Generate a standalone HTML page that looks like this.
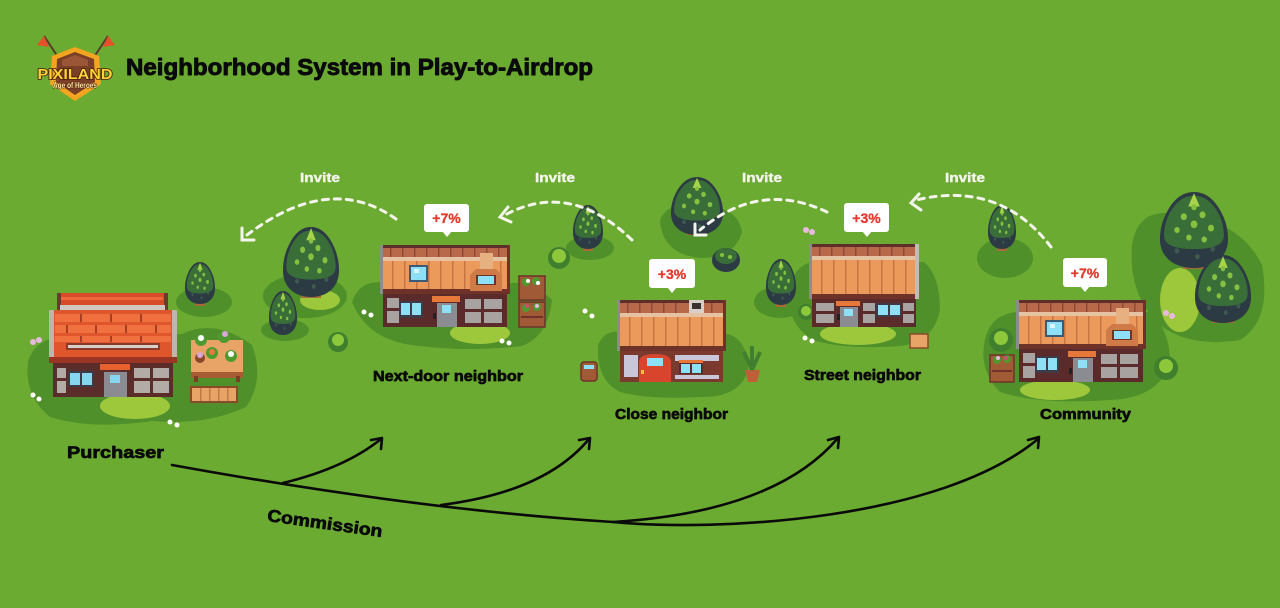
<!DOCTYPE html>
<html><head><meta charset="utf-8"><style>
html,body{margin:0;padding:0;width:1280px;height:608px;overflow:hidden;background:#6bab31}
svg{display:block}
text{font-family:"Liberation Sans",sans-serif;font-weight:bold}
</style></head><body>
<svg width="1280" height="608" viewBox="0 0 1280 608" xmlns="http://www.w3.org/2000/svg">
<defs>
<g id="houseA">
  <rect x="0" y="0" width="130" height="3" fill="#5e2e2a"/>
  <rect x="0" y="3" width="130" height="9" fill="#b8694a"/>
  <g fill="#8e4a36"><rect x="10" y="3" width="1.5" height="9"/><rect x="22" y="3" width="1.5" height="9"/><rect x="34" y="3" width="1.5" height="9"/><rect x="46" y="3" width="1.5" height="9"/><rect x="58" y="3" width="1.5" height="9"/><rect x="70" y="3" width="1.5" height="9"/><rect x="82" y="3" width="1.5" height="9"/><rect x="94" y="3" width="1.5" height="9"/><rect x="106" y="3" width="1.5" height="9"/><rect x="118" y="3" width="1.5" height="9"/></g>
  <rect x="0" y="12" width="130" height="4" fill="#e6c2a2"/>
  <rect x="0" y="16" width="130" height="30" fill="#ec9a5c"/>
  <g fill="#c67542"><rect x="12" y="16" width="1.5" height="30"/><rect x="24" y="16" width="1.5" height="30"/><rect x="36" y="16" width="1.5" height="30"/><rect x="48" y="16" width="1.5" height="30"/><rect x="60" y="16" width="1.5" height="30"/><rect x="72" y="16" width="1.5" height="30"/><rect x="84" y="16" width="1.5" height="30"/><rect x="108" y="16" width="1.5" height="30"/><rect x="120" y="16" width="1.5" height="30"/></g>
  <rect x="0" y="44" width="130" height="5" fill="#6e3229"/>
  <rect x="0" y="0" width="3" height="49" fill="#8c8c8c"/>
  <rect x="127" y="0" width="3" height="49" fill="#6e3229"/>
  <rect x="29" y="20" width="19" height="17" fill="#3a5a78"/>
  <rect x="31" y="22" width="15" height="13" fill="#8ee0f6"/>
  <rect x="34" y="24" width="5" height="4" fill="#d8f6ff"/>
  <rect x="100" y="8" width="13" height="16" fill="#e6b080"/>
  <path d="M90,46 L90,30 L96,24 L116,24 L122,30 L122,46 Z" fill="#d07a48"/>
  <rect x="96" y="30" width="20" height="10" fill="#6e3229"/>
  <rect x="98" y="31" width="16" height="8" fill="#8ee0f6"/>
  <rect x="3" y="49" width="124" height="33" fill="#5a2b2a"/>
  <rect x="7" y="53" width="12" height="10" fill="#a8a2a0"/>
  <rect x="7" y="66" width="12" height="12" fill="#a8a2a0"/>
  <rect x="19" y="56" width="24" height="17" fill="#3e3a48"/>
  <rect x="21" y="58" width="9" height="12" fill="#8ee0f6"/>
  <rect x="32" y="58" width="9" height="12" fill="#8ee0f6"/>
  <rect x="52" y="51" width="28" height="6" fill="#e6783a"/>
  <rect x="57" y="58" width="20" height="24" fill="#8a8c92"/>
  <rect x="62" y="60" width="9" height="8" fill="#8ee0f6"/>
  <rect x="53" y="68" width="3" height="6" fill="#222"/>
  <rect x="85" y="54" width="16" height="10" fill="#a8a2a0"/>
  <rect x="104" y="54" width="18" height="10" fill="#a8a2a0"/>
  <rect x="85" y="67" width="16" height="11" fill="#a8a2a0"/>
  <rect x="104" y="67" width="18" height="11" fill="#a8a2a0"/>
</g>
<g id="tr">
  <path d="M0,-1 C0.3,-1 0.55,-0.85 0.75,-0.55 C0.95,-0.25 1,0 1,0.25 C1,0.7 0.6,1 0,1 C-0.6,1 -1,0.7 -1,0.25 C-1,0 -0.95,-0.25 -0.75,-0.55 C-0.55,-0.85 -0.3,-1 0,-1Z" fill="#2c3a44"/>
  <path d="M0,-0.9 C0.3,-0.9 0.5,-0.75 0.68,-0.5 C0.85,-0.25 0.88,0 0.88,0.15 C0.88,0.42 0.5,0.5 0,0.5 C-0.5,0.5 -0.88,0.42 -0.88,0.15 C-0.88,0 -0.85,-0.25 -0.68,-0.5 C-0.5,-0.75 -0.3,-0.9 0,-0.9Z" fill="#3a6e38"/>
  <path d="M0,-0.97 L0.17,-0.62 L-0.17,-0.62Z" fill="#a8d44a"/>
  <g fill="#86c040">
    <circle cx="-0.3" cy="-0.35" r="0.09"/><circle cx="0.25" cy="-0.4" r="0.09"/><circle cx="0" cy="-0.15" r="0.1"/>
    <circle cx="-0.5" cy="0" r="0.08"/><circle cx="0.5" cy="-0.05" r="0.09"/><circle cx="-0.15" cy="0.2" r="0.08"/>
    <circle cx="0.3" cy="0.25" r="0.08"/><circle cx="0" cy="-0.6" r="0.08"/>
  </g>
  <g fill="#3e5a4e">
    <circle cx="-0.5" cy="0.55" r="0.07"/><circle cx="0.1" cy="0.7" r="0.07"/><circle cx="0.55" cy="0.5" r="0.07"/>
  </g>
</g>
</defs>

<rect width="1280" height="608" fill="#6bab31"/>

<!-- ===== shadows ===== -->
<g fill="#50902b">
  <path d="M28,362 Q36,334 72,338 L182,334 Q215,318 252,345 Q265,380 246,407 Q205,426 152,421 Q92,430 50,417 Q24,396 28,362Z"/>
  <ellipse cx="204" cy="302" rx="28" ry="15"/>
  <path d="M352,302 Q360,278 388,283 L512,283 Q532,280 552,300 Q548,336 522,346 Q470,352 420,346 Q368,342 352,302Z"/>
  <ellipse cx="305" cy="296" rx="42" ry="22"/>
  <ellipse cx="285" cy="330" rx="24" ry="11"/>
  <path d="M598,345 Q606,326 630,334 L728,334 Q748,340 748,370 Q740,398 700,397 Q650,400 620,392 Q596,380 598,345Z"/>
  <ellipse cx="590" cy="248" rx="24" ry="12"/>
  <path d="M660,220 Q668,200 700,205 Q738,206 742,232 Q735,258 700,258 Q662,254 660,220Z"/>
  <path d="M788,290 Q796,262 816,262 L924,262 Q940,275 940,310 Q934,342 900,346 Q846,350 812,340 Q786,322 788,290Z"/>
  <ellipse cx="780" cy="302" rx="26" ry="16"/>
  <path d="M984,345 Q988,315 1016,312 L1150,312 Q1170,330 1170,362 Q1160,398 1110,400 Q1040,405 1000,392 Q980,372 984,345Z"/>
  <ellipse cx="1005" cy="258" rx="28" ry="20"/>
  <path d="M1132,245 Q1138,205 1180,215 Q1240,220 1262,265 Q1272,320 1240,340 Q1190,348 1160,325 Q1128,295 1132,245Z"/>
</g>
<!-- light patches -->
<g fill="#9dc83c">
  <ellipse cx="135" cy="406" rx="35" ry="13"/>
  <ellipse cx="480" cy="333" rx="30" ry="11"/>
  <ellipse cx="858" cy="334" rx="38" ry="11"/>
  <ellipse cx="1055" cy="390" rx="35" ry="10"/>
  <ellipse cx="1180" cy="300" rx="20" ry="32"/>
  <ellipse cx="320" cy="300" rx="20" ry="10"/>
</g>

<!-- ===== trees ===== -->
<g>
  <rect x="195" y="301" width="10" height="5" fill="#a86a3a"/>
  <use href="#tr" transform="translate(200,283) scale(15,21)"/>
  <rect x="301" y="292" width="20" height="6" fill="#a86a3a"/>
  <use href="#tr" transform="translate(311,262) scale(28,35)"/>
  <use href="#tr" transform="translate(283,313) scale(14,22)"/>
  <rect x="583" y="246" width="10" height="5" fill="#a86a3a"/>
  <use href="#tr" transform="translate(588,227) scale(15,22)"/>
  <rect x="687" y="229" width="20" height="6" fill="#a86a3a"/>
  <use href="#tr" transform="translate(697,206) scale(26,29)"/>
  <ellipse cx="726" cy="260" rx="14" ry="12" fill="#2c3a44"/>
  <ellipse cx="726" cy="256" rx="11" ry="8" fill="#3a6e38"/>
  <circle cx="722" cy="255" r="2" fill="#86c040"/><circle cx="730" cy="257" r="2" fill="#86c040"/>
  <rect x="776" y="302" width="10" height="5" fill="#a86a3a"/>
  <use href="#tr" transform="translate(781,282) scale(15,23)"/>
  <rect x="997" y="246" width="10" height="5" fill="#a86a3a"/>
  <use href="#tr" transform="translate(1002,227) scale(14,22)"/>
  <rect x="1183" y="262" width="22" height="7" fill="#a86a3a"/>
  <use href="#tr" transform="translate(1194,230) scale(34,38)"/>
  <rect x="1212" y="316" width="22" height="7" fill="#a86a3a"/>
  <use href="#tr" transform="translate(1223,289) scale(28,34)"/>
</g>

<!-- bushes -->
<g>
  <circle cx="338" cy="342" r="10" fill="#3f7f2e"/><circle cx="338" cy="340" r="6" fill="#8cc83a"/>
  <circle cx="559" cy="258" r="11" fill="#3f7f2e"/><circle cx="559" cy="256" r="7" fill="#8cc83a"/>
  <circle cx="1001" cy="340" r="12" fill="#3f7f2e"/><circle cx="1001" cy="338" r="7" fill="#8cc83a"/>
  <circle cx="1166" cy="368" r="12" fill="#3f7f2e"/><circle cx="1166" cy="366" r="7" fill="#8cc83a"/>
  <circle cx="806" cy="312" r="8" fill="#3f7f2e"/><circle cx="806" cy="311" r="5" fill="#8cc83a"/>
</g>

<!-- flowers -->
<g>
  <circle cx="33" cy="342" r="3" fill="#e8b8e0"/><circle cx="39" cy="340" r="3" fill="#e8b8e0"/>
  <circle cx="33" cy="395" r="2.5" fill="#fff"/><circle cx="39" cy="399" r="2.5" fill="#fff"/>
  <circle cx="170" cy="422" r="2.5" fill="#fff"/><circle cx="177" cy="425" r="2.5" fill="#fff"/>
  <circle cx="364" cy="312" r="2.5" fill="#fff"/><circle cx="371" cy="315" r="2.5" fill="#fff"/>
  <circle cx="502" cy="341" r="2.5" fill="#fff"/><circle cx="509" cy="343" r="2.5" fill="#fff"/>
  <circle cx="585" cy="311" r="2.5" fill="#fff"/><circle cx="592" cy="316" r="2.5" fill="#fff"/>
  <circle cx="806" cy="230" r="3" fill="#e8b8e0"/><circle cx="812" cy="232" r="3" fill="#e8b8e0"/>
  <circle cx="805" cy="338" r="2.5" fill="#fff"/><circle cx="812" cy="341" r="2.5" fill="#fff"/>
  <circle cx="1166" cy="313" r="3" fill="#e8b8e0"/><circle cx="1172" cy="316" r="3" fill="#e8b8e0"/>
</g>

<!-- ===== Purchaser house ===== -->
<g>
  <rect x="57" y="293" width="111" height="17" fill="#d84a28"/>
  <rect x="61" y="297" width="102" height="3" fill="#ee6a3a"/>
  <rect x="57" y="293" width="4" height="18" fill="#6a3a30"/>
  <rect x="164" y="293" width="4" height="18" fill="#6a3a30"/>
  <rect x="60" y="305" width="105" height="5" fill="#cfc7c0"/>
  <rect x="49" y="310" width="128" height="53" fill="#e0562c"/>
  <rect x="55" y="314" width="116" height="8" fill="#f07040"/>
  <rect x="55" y="325" width="116" height="8" fill="#f07040"/>
  <rect x="55" y="336" width="116" height="6" fill="#f07040"/>
  <g fill="#a83c24">
    <rect x="80" y="314" width="2" height="8"/><rect x="110" y="314" width="2" height="8"/><rect x="140" y="314" width="2" height="8"/>
    <rect x="66" y="325" width="2" height="8"/><rect x="95" y="325" width="2" height="8"/><rect x="125" y="325" width="2" height="8"/><rect x="155" y="325" width="2" height="8"/>
    <rect x="80" y="336" width="2" height="6"/><rect x="110" y="336" width="2" height="6"/><rect x="140" y="336" width="2" height="6"/>
  </g>
  <rect x="49" y="310" width="5" height="53" fill="#bdb5ae"/>
  <rect x="172" y="310" width="5" height="53" fill="#bdb5ae"/>
  <rect x="66" y="343" width="94" height="7" fill="#8a3a2a"/>
  <rect x="68" y="345" width="90" height="3" fill="#d8cfc8"/>
  <rect x="49" y="357" width="128" height="6" fill="#9a3524"/>
  <rect x="53" y="363" width="120" height="34" fill="#5a2c2a"/>
  <rect x="57" y="368" width="9" height="10" fill="#b3aba6"/>
  <rect x="57" y="381" width="9" height="12" fill="#b3aba6"/>
  <rect x="68" y="371" width="26" height="16" fill="#3e3a48"/>
  <rect x="70" y="373" width="10" height="12" fill="#86d6f0"/>
  <rect x="82" y="373" width="10" height="12" fill="#86d6f0"/>
  <rect x="100" y="364" width="30" height="6" fill="#e8602e"/>
  <rect x="104" y="372" width="23" height="25" fill="#8a8c92"/>
  <rect x="110" y="375" width="10" height="8" fill="#86d6f0"/>
  <rect x="134" y="368" width="16" height="10" fill="#b3aba6"/>
  <rect x="153" y="368" width="16" height="10" fill="#b3aba6"/>
  <rect x="134" y="381" width="16" height="12" fill="#b3aba6"/>
  <rect x="153" y="381" width="16" height="12" fill="#b3aba6"/>
</g>
<!-- table + bench -->
<g>
  <rect x="191" y="340" width="52" height="34" fill="#e8a466"/>
  <rect x="191" y="372" width="52" height="6" fill="#a85c34"/>
  <rect x="194" y="376" width="4" height="6" fill="#7a3e24"/><rect x="236" y="376" width="4" height="6" fill="#7a3e24"/>
  <circle cx="201" cy="340" r="6" fill="#4f9a2f"/><circle cx="201" cy="338" r="3" fill="#fff"/>
  <circle cx="224" cy="337" r="6" fill="#4f9a2f"/><circle cx="225" cy="334" r="3" fill="#d8a8d8"/>
  <circle cx="212" cy="353" r="6" fill="#4f9a2f"/><circle cx="212" cy="352" r="3" fill="#e87a40"/>
  <circle cx="200" cy="358" r="5" fill="#8a4a2a"/><circle cx="200" cy="355" r="3" fill="#d8a8d8"/>
  <circle cx="231" cy="356" r="6" fill="#4f9a2f"/><circle cx="231" cy="354" r="3" fill="#fff"/>
  <rect x="191" y="387" width="46" height="15" fill="#e8a466" stroke="#8a4a2a" stroke-width="2"/>
  <g fill="#c07a48"><rect x="200" y="388" width="1.5" height="13"/><rect x="209" y="388" width="1.5" height="13"/><rect x="218" y="388" width="1.5" height="13"/><rect x="227" y="388" width="1.5" height="13"/></g>
</g>

<!-- ===== Next-door house ===== -->
<use href="#houseA" transform="translate(380,245)"/>
<g>
  <rect x="519" y="276" width="26" height="24" fill="#a05a35" stroke="#6e3229" stroke-width="1.5"/>
  <circle cx="526" cy="282" r="4" fill="#4f9a2f"/><circle cx="536" cy="281" r="4" fill="#4f9a2f"/><circle cx="528" cy="281" r="2" fill="#fff"/><circle cx="538" cy="283" r="2" fill="#fff"/>
  <rect x="519" y="302" width="26" height="25" fill="#a05a35" stroke="#6e3229" stroke-width="1.5"/>
  <circle cx="526" cy="308" r="4" fill="#4f9a2f"/><circle cx="537" cy="307" r="4" fill="#4f9a2f"/><circle cx="527" cy="306" r="2" fill="#d04a7a"/><circle cx="537" cy="306" r="2" fill="#e8b8e0"/>
  <rect x="521" y="316" width="22" height="2" fill="#6e3229"/>
</g>

<!-- ===== Close neighbor house ===== -->
<g transform="translate(617,300)">
  <rect x="0" y="0" width="109" height="3" fill="#5e2e2a"/>
  <rect x="0" y="3" width="109" height="10" fill="#b8694a"/>
  <g fill="#8e4a36"><rect x="10" y="3" width="1.5" height="10"/><rect x="22" y="3" width="1.5" height="10"/><rect x="34" y="3" width="1.5" height="10"/><rect x="46" y="3" width="1.5" height="10"/><rect x="58" y="3" width="1.5" height="10"/><rect x="94" y="3" width="1.5" height="10"/></g>
  <rect x="72" y="0" width="15" height="16" fill="#d8d0c8"/>
  <rect x="75" y="3" width="9" height="6" fill="#3a3030"/>
  <rect x="0" y="13" width="109" height="4" fill="#e6c2a2"/>
  <rect x="0" y="17" width="109" height="30" fill="#ec9a5c"/>
  <g fill="#c67542"><rect x="12" y="17" width="1.5" height="30"/><rect x="24" y="17" width="1.5" height="30"/><rect x="36" y="17" width="1.5" height="30"/><rect x="48" y="17" width="1.5" height="30"/><rect x="60" y="17" width="1.5" height="30"/><rect x="72" y="17" width="1.5" height="30"/><rect x="84" y="17" width="1.5" height="30"/><rect x="96" y="17" width="1.5" height="30"/></g>
  <rect x="0" y="46" width="109" height="5" fill="#6e3229"/>
  <rect x="0" y="0" width="3" height="51" fill="#8c8c8c"/>
  <rect x="106" y="0" width="3" height="51" fill="#6e3229"/>
  <rect x="3" y="51" width="103" height="31" fill="#7a3a2e"/>
  <rect x="7" y="55" width="14" height="22" fill="#c8c6d8"/>
  <rect x="58" y="55" width="44" height="6" fill="#c8c6d8"/>
  <rect x="58" y="75" width="44" height="4" fill="#c8c6d8"/>
  <path d="M22,82 L22,62 Q22,54 38,54 Q54,54 54,62 L54,82 Z" fill="#d8452c"/>
  <rect x="30" y="58" width="16" height="8" fill="#8ee0f6"/>
  <rect x="24" y="70" width="3" height="4" fill="#f0c040"/>
  <rect x="62" y="60" width="24" height="3" fill="#e8783a"/>
  <rect x="62" y="63" width="24" height="11" fill="#5a2b2a"/>
  <rect x="64" y="64" width="9" height="9" fill="#8ee0f6"/>
  <rect x="75" y="64" width="9" height="9" fill="#8ee0f6"/>
</g>
<!-- bucket, potted plant -->
<g>
  <rect x="581" y="362" width="16" height="19" rx="3" fill="#a05a35" stroke="#6e3229" stroke-width="1.5"/>
  <rect x="584" y="365" width="10" height="4" fill="#8ee0f6"/>
  <path d="M745,370 L760,370 L757,382 L748,382 Z" fill="#c0603a"/>
  <path d="M752,370 L744,352 M752,370 L752,346 M752,370 L760,352" stroke="#3f7f2e" stroke-width="4"/>
</g>

<!-- ===== Street neighbor house ===== -->
<g transform="translate(809,244)">
  <rect x="0" y="0" width="110" height="3" fill="#5e2e2a"/>
  <rect x="0" y="3" width="110" height="9" fill="#b8694a"/>
  <g fill="#8e4a36"><rect x="10" y="3" width="1.5" height="9"/><rect x="22" y="3" width="1.5" height="9"/><rect x="34" y="3" width="1.5" height="9"/><rect x="46" y="3" width="1.5" height="9"/><rect x="58" y="3" width="1.5" height="9"/><rect x="70" y="3" width="1.5" height="9"/><rect x="82" y="3" width="1.5" height="9"/><rect x="94" y="3" width="1.5" height="9"/></g>
  <rect x="0" y="12" width="110" height="4" fill="#e6c2a2"/>
  <rect x="0" y="16" width="110" height="35" fill="#ec9a5c"/>
  <g fill="#c67542"><rect x="12" y="16" width="1.5" height="35"/><rect x="24" y="16" width="1.5" height="35"/><rect x="36" y="16" width="1.5" height="35"/><rect x="48" y="16" width="1.5" height="35"/><rect x="60" y="16" width="1.5" height="35"/><rect x="72" y="16" width="1.5" height="35"/><rect x="84" y="16" width="1.5" height="35"/><rect x="96" y="16" width="1.5" height="35"/></g>
  <rect x="0" y="50" width="110" height="5" fill="#6e3229"/>
  <rect x="0" y="0" width="3" height="55" fill="#8c8c8c"/>
  <rect x="106" y="0" width="4" height="55" fill="#c0bcb8"/>
  <rect x="3" y="55" width="104" height="28" fill="#5a2b2a"/>
  <rect x="7" y="59" width="18" height="8" fill="#a8a2a0"/>
  <rect x="7" y="70" width="18" height="9" fill="#a8a2a0"/>
  <rect x="27" y="57" width="24" height="5" fill="#e6783a"/>
  <rect x="31" y="63" width="18" height="20" fill="#8a8c92"/>
  <rect x="35" y="65" width="9" height="7" fill="#8ee0f6"/>
  <rect x="28" y="70" width="3" height="6" fill="#222"/>
  <rect x="54" y="59" width="12" height="8" fill="#a8a2a0"/>
  <rect x="54" y="70" width="12" height="9" fill="#a8a2a0"/>
  <rect x="67" y="59" width="25" height="14" fill="#3e3a48"/>
  <rect x="69" y="61" width="10" height="10" fill="#8ee0f6"/>
  <rect x="81" y="61" width="10" height="10" fill="#8ee0f6"/>
  <rect x="94" y="59" width="11" height="8" fill="#a8a2a0"/>
  <rect x="94" y="70" width="11" height="9" fill="#a8a2a0"/>
</g>
<rect x="910" y="334" width="18" height="14" fill="#e8a466" stroke="#8a4a2a" stroke-width="1.5"/>

<!-- ===== Community house ===== -->
<use href="#houseA" transform="translate(1016,300)"/>
<g>
  <rect x="990" y="355" width="24" height="27" fill="#a05a35" stroke="#6e3229" stroke-width="1.5"/>
  <circle cx="997" cy="360" r="4" fill="#4f9a2f"/><circle cx="1007" cy="359" r="4" fill="#4f9a2f"/><circle cx="998" cy="358" r="2" fill="#e8b8e0"/><circle cx="1006" cy="358" r="2" fill="#d04a7a"/>
  <rect x="992" y="370" width="20" height="2" fill="#6e3229"/>
</g>

<!-- ===== Badges ===== -->
<g>
  <rect x="424" y="204" width="45" height="28" rx="3" fill="#fff"/><path d="M442,231 L447,237 L452,231 Z" fill="#fff"/>
  <text x="446.5" y="223" font-size="14" fill="#e23a2e" stroke="#e23a2e" stroke-width="0.3" text-anchor="middle">+7%</text>
  <rect x="649" y="259" width="46" height="29" rx="3" fill="#fff"/><path d="M667,287 L672,293 L677,287 Z" fill="#fff"/>
  <text x="672" y="279" font-size="14" fill="#e23a2e" stroke="#e23a2e" stroke-width="0.3" text-anchor="middle">+3%</text>
  <rect x="844" y="203" width="45" height="29" rx="3" fill="#fff"/><path d="M862,231 L867,237 L872,231 Z" fill="#fff"/>
  <text x="866.5" y="223" font-size="14" fill="#e23a2e" stroke="#e23a2e" stroke-width="0.3" text-anchor="middle">+3%</text>
  <rect x="1063" y="258" width="44" height="29" rx="3" fill="#fff"/><path d="M1080,286 L1085,292 L1090,286 Z" fill="#fff"/>
  <text x="1085" y="278" font-size="14" fill="#e23a2e" stroke="#e23a2e" stroke-width="0.3" text-anchor="middle">+7%</text>
</g>

<!-- ===== Invite arcs ===== -->
<g fill="none" stroke="#f4f4ec" stroke-width="3" stroke-linecap="round">
  <path d="M396,219 Q330,172 247,235" stroke-dasharray="6 6"/>
  <polyline points="242,228 242,240 254,240"/>
  <path d="M632,240 Q570,180 505,215" stroke-dasharray="6 6"/>
  <polyline points="508,207 500,217 511,222"/>
  <path d="M827,212 Q760,180 700,230" stroke-dasharray="6 6"/>
  <polyline points="695,224 695,235 706,235"/>
  <path d="M1051,247 Q1000,180 916,200" stroke-dasharray="6 6"/>
  <polyline points="919,194 911,203 921,210"/>
</g>
<g fill="#f4f4ec" stroke="#f4f4ec" stroke-width="0.4" font-size="13">
  <text x="300" y="182" textLength="40" lengthAdjust="spacingAndGlyphs">Invite</text>
  <text x="535" y="182" textLength="40" lengthAdjust="spacingAndGlyphs">Invite</text>
  <text x="742" y="182" textLength="40" lengthAdjust="spacingAndGlyphs">Invite</text>
  <text x="945" y="182" textLength="40" lengthAdjust="spacingAndGlyphs">Invite</text>
</g>

<!-- ===== Commission arrows ===== -->
<g fill="none" stroke="#0a0a0a" stroke-width="2.6" stroke-linecap="round" stroke-linejoin="round">
  <path d="M172,465 Q420,510 613,522"/>
  <path d="M613,522 C720,532 940,520 1038,439"/>
  <path d="M283,483 Q345,468 381,439"/>
  <path d="M441,505 Q545,492 589,439"/>
  <path d="M613,522 Q775,512 838,438"/>
  <polyline points="371,440 382,438 381,449"/>
  <polyline points="579,440 590,438 589,449"/>
  <polyline points="828,440 839,437 838,448"/>
  <polyline points="1028,440 1039,437 1038,448"/>
</g>

<!-- ===== Labels ===== -->
<g fill="#0a0a0a" stroke="#0a0a0a" stroke-width="0.7" stroke-linejoin="round">
  <text x="126" y="75" font-size="23" stroke-width="0.9" textLength="467" lengthAdjust="spacingAndGlyphs">Neighborhood System in Play-to-Airdrop</text>
  <text x="67" y="458" font-size="17" textLength="97" lengthAdjust="spacingAndGlyphs">Purchaser</text>
  <text x="373" y="381" font-size="15" textLength="150" lengthAdjust="spacingAndGlyphs">Next-door neighbor</text>
  <text x="615" y="419" font-size="15" textLength="113" lengthAdjust="spacingAndGlyphs">Close neighbor</text>
  <text x="804" y="380" font-size="15" textLength="117" lengthAdjust="spacingAndGlyphs">Street neighbor</text>
  <text x="1040" y="419" font-size="15" textLength="91" lengthAdjust="spacingAndGlyphs">Community</text>
  <text x="325" y="529" font-size="17" text-anchor="middle" textLength="116" lengthAdjust="spacingAndGlyphs" transform="rotate(8 325 523)">Commission</text>
</g>

<!-- ===== Logo ===== -->
<g>
  <line x1="44" y1="36" x2="60" y2="60" stroke="#5a3a2a" stroke-width="2"/>
  <line x1="108" y1="36" x2="92" y2="60" stroke="#5a3a2a" stroke-width="2"/>
  <path d="M44,36 L37,45 L49,47 Z" fill="#e8502a"/>
  <path d="M108,36 L115,45 L103,47 Z" fill="#e8502a"/>
  <path d="M52,56 L75,47 L99,56 L101,84 L75,101 L50,84 Z" fill="#f3a51f"/>
  <path d="M57,59 L75,52 L94,59 L95,82 L75,95 L56,82 Z" fill="#7b3e26"/>
  <path d="M62,60 L75,55 L88,60 L88,66 L62,66 Z" fill="#9a5636"/>
  <text x="75" y="79" font-size="15" fill="#ffd23a" stroke="#4a200c" stroke-width="1.6" paint-order="stroke" text-anchor="middle" textLength="75" lengthAdjust="spacingAndGlyphs">PIXILAND</text>
  <text x="75" y="88" font-size="8" fill="#ffe9a0" stroke="#4a200c" stroke-width="1" paint-order="stroke" text-anchor="middle" textLength="44" lengthAdjust="spacingAndGlyphs">Age of Heroes</text>
</g>
</svg>
</body></html>
